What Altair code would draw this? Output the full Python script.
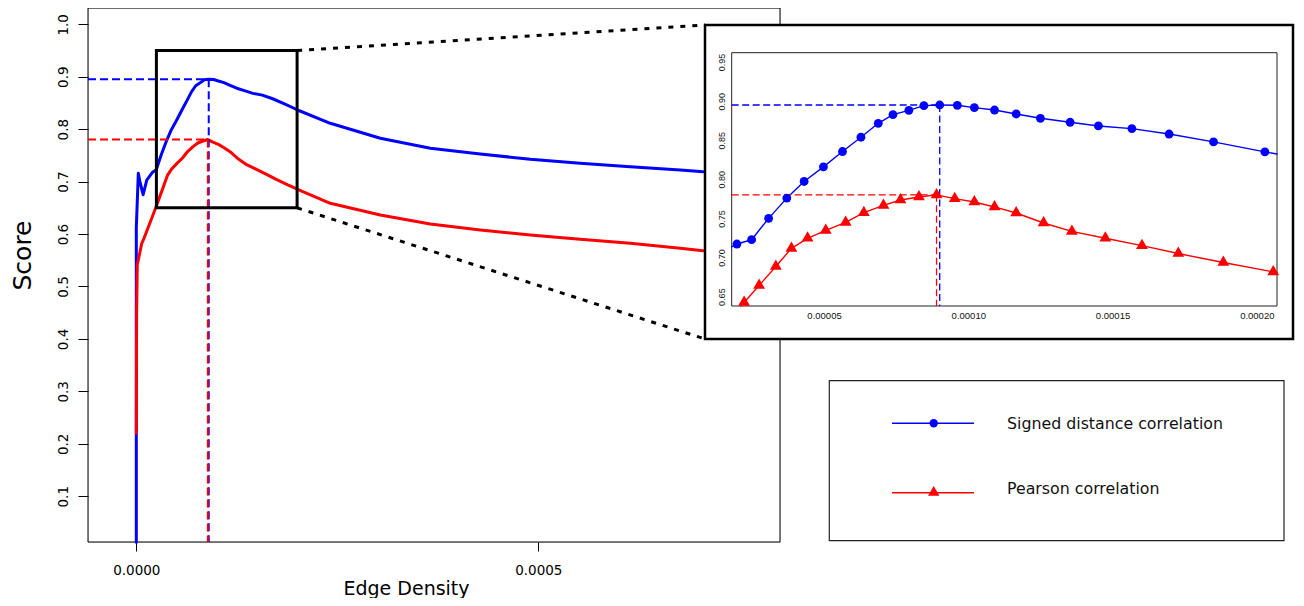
import altair as alt
import pandas as pd

# ---------------- data ----------------
SERIES = ["Signed distance correlation", "Pearson correlation"]
COLORS = ["#0000ff", "#ff0000"]
SHAPES = ["circle", "triangle-up"]

SDC_X = [0.0, 0.0, 0.0000025, 0.0000045, 0.0000085, 0.000013,
         0.0000198, 0.0000249, 0.0000308, 0.0000371, 0.0000431, 0.0000498,
         0.0000564, 0.0000628, 0.0000688, 0.0000739, 0.0000794, 0.0000846,
         0.0000901, 0.0000962, 0.0001021, 0.0001091, 0.0001166, 0.0001250,
         0.0001353, 0.0001451, 0.0001567, 0.0001696, 0.0001850, 0.0002028,
         0.0002413, 0.0003035, 0.0003657, 0.0004279, 0.0004900, 0.0005520,
         0.0006144, 0.0006766, 0.0007050]
SDC_Y = [0.0125, 0.611, 0.716, 0.700, 0.675, 0.703,
         0.7173, 0.7228, 0.7501, 0.7760, 0.7973, 0.8160,
         0.8356, 0.8539, 0.8717, 0.8828, 0.8883, 0.8943,
         0.8951, 0.8947, 0.8918, 0.8887, 0.8836, 0.8781,
         0.8730, 0.8683, 0.8649, 0.8580, 0.8479, 0.8351,
         0.8112, 0.7826, 0.7635, 0.7527, 0.7426, 0.7349,
         0.7285, 0.7222, 0.7189]

PC_X = [0.0, 0.0000004, 0.0000012, 0.0000068, 0.0000096,
        0.0000223, 0.0000275, 0.0000333, 0.0000387, 0.0000443, 0.0000506,
        0.0000575, 0.0000638, 0.0000706, 0.0000765, 0.0000829, 0.0000890,
        0.0000953, 0.0001021, 0.0001091, 0.0001166, 0.0001261, 0.0001359,
        0.0001475, 0.0001602, 0.0001728, 0.0001884, 0.0002057,
        0.0002413, 0.0003035, 0.0003657, 0.0004279, 0.0004900, 0.0005520,
        0.0006144, 0.0006766, 0.0007050]
PC_Y = [0.220, 0.449, 0.541, 0.5824, 0.5919,
        0.6425, 0.6642, 0.6885, 0.7118, 0.7246, 0.7348,
        0.7450, 0.7574, 0.7667, 0.7736, 0.7774, 0.7802,
        0.7753, 0.7710, 0.7647, 0.7570, 0.7442, 0.7335,
        0.7246, 0.7153, 0.7051, 0.6936, 0.6817,
        0.6587, 0.6364, 0.6192, 0.6078, 0.5982, 0.5900,
        0.5824, 0.5728, 0.5683]

X_TICKS = [0.0, 0.0005]
Y_TICKS = [0.1, 0.2, 0.3, 0.4, 0.5, 0.6, 0.7, 0.8, 0.9, 1.0]
INSET_X_TICKS = [0.00005, 0.00010, 0.00015, 0.00020]
INSET_Y_TICKS = [0.65, 0.70, 0.75, 0.80, 0.85, 0.90, 0.95]
ZOOM_X = [0.000025, 0.0002]
ZOOM_Y = [0.65, 0.95]

# ---------------- layout ----------------
W, H = 692, 534
X_DOMAIN = [-0.00006007, 0.00080063]
Y_DOMAIN = [0.01278, 1.03105]
EXP = 0.04
IX = [ZOOM_X[0] - EXP * (ZOOM_X[1] - ZOOM_X[0]), ZOOM_X[1] + EXP * (ZOOM_X[1] - ZOOM_X[0])]
IY = [ZOOM_Y[0] - EXP * (ZOOM_Y[1] - ZOOM_Y[0]), ZOOM_Y[1] + EXP * (ZOOM_Y[1] - ZOOM_Y[0])]
INSET_X_RANGE = [643.7, 1189.0]
INSET_Y_RANGE = [298.0, 44.7]
INSET_BOX = [617, 1205, 17, 331]
LEGEND_BOX = [741.3, 1196, 372.7, 532.7]
LEG_LINE_X = [804, 886]
LEG_MARK_X = 845.7
LEG_LINE_Y = [415.3, 484.7]
LEG_TEXT_X = 919
LEG_TEXT_Y = [421, 486]
TRI_OFFSET = -1.8

rows = []
for s, xs, ys in zip(SERIES, [SDC_X, PC_X], [SDC_Y, PC_Y]):
    for k, (x, y) in enumerate(zip(xs, ys)):
        rows.append({"series": s, "idx": k, "x": x, "y": y})
df = pd.DataFrame(rows)
one = pd.DataFrame({"k": [0]})

MX = alt.Scale(domain=X_DOMAIN, range=[0, W], nice=False, zero=False)
MY = alt.Scale(domain=Y_DOMAIN, range=[H, 0], nice=False, zero=False)
IXS = alt.Scale(domain=IX, range=INSET_X_RANGE, nice=False, zero=False)
IYS = alt.Scale(domain=IY, range=INSET_Y_RANGE, nice=False, zero=False)

MAIN_FONT = "DejaVu Sans"
INSET_FONT = "Liberation Sans"

main_x_axis = alt.Axis(
    values=X_TICKS, format=".4f", orient="bottom", domain=False, grid=False,
    ticks=True, tickSize=9, tickColor="black", tickWidth=1,
    labelFont=MAIN_FONT, labelFontSize=13.5, labelColor="black", labelPadding=12.5,
    labelFlush=False, labelOverlap=False, labelBaseline="top",
    title="Edge Density", titleFont=MAIN_FONT, titleFontSize=19, titleFontWeight="normal",
    titleColor="black", titleX=318, titleY=52.5, titleAlign="center",
    titleBaseline="alphabetic", titleAngle=0)

main_y_axis = alt.Axis(
    values=Y_TICKS, format=".1f", orient="left", domain=False, grid=False,
    ticks=True, tickSize=10, tickColor="black", tickWidth=1,
    labelFont=MAIN_FONT, labelFontSize=13.5, labelColor="black", labelPadding=11,
    labelAngle=270, labelAlign="center", labelBaseline="alphabetic",
    labelFlush=False, labelOverlap=False,
    title="Score", titleFont=MAIN_FONT, titleFontSize=25, titleFontWeight="normal",
    titleColor="black", titleX=-58, titleY=247, titleAlign="center",
    titleBaseline="alphabetic", titleAngle=270)

inset_x_axis = alt.Axis(
    values=INSET_X_TICKS, format=".5f", orient="bottom", offset=INSET_Y_RANGE[0] - H,
    domain=False, grid=False, ticks=False, tickSize=0, zindex=2,
    labelFont=INSET_FONT, labelFontSize=9.5, labelColor="#111111", labelPadding=4.5,
    labelBaseline="top", labelFlush=False, labelOverlap=False, title="")

inset_y_axis = alt.Axis(
    values=INSET_Y_TICKS, format=".2f", orient="left", offset=-INSET_X_RANGE[0],
    domain=False, grid=False, ticks=False, tickSize=0, zindex=2,
    labelFont=INSET_FONT, labelFontSize=9, labelColor="#111111", labelPadding=7,
    labelAngle=270, labelAlign="center", labelBaseline="alphabetic",
    labelFlush=False, labelOverlap=False, title="")


def sel(i):
    return alt.Chart(df).transform_filter(alt.datum.series == SERIES[i])


layers = []

# ---------------- main panel ----------------
frame_df = pd.DataFrame({"x0": [X_DOMAIN[0]], "x1": [X_DOMAIN[1]],
                         "y0": [Y_DOMAIN[0]], "y1": [Y_DOMAIN[1]]})
layers.append(alt.Chart(frame_df).mark_rect(filled=False, stroke="black", strokeWidth=1).encode(
    x=alt.X("x0:Q", scale=MX, axis=main_x_axis), x2="x1:Q",
    y=alt.Y("y0:Q", scale=MY, axis=main_y_axis), y2="y1:Q"))

for i in range(2):
    layers.append(
        sel(i).mark_line(color=COLORS[i], strokeWidth=3, strokeCap="round", strokeJoin="round").encode(
            x=alt.X("x:Q", scale=MX, axis=None),
            y=alt.Y("y:Q", scale=MY, axis=None),
            order=alt.Order("idx:Q")))


def peak_base(i, xlo, ylo):
    return (sel(i).transform_aggregate(peak="argmax(y)")
            .transform_calculate(px="datum.peak.x")
            .transform_calculate(py="datum.peak.y")
            .transform_calculate(xlo=repr(xlo))
            .transform_calculate(ylo=repr(ylo)))


for i in range(2):
    b = peak_base(i, X_DOMAIN[0], Y_DOMAIN[0])
    layers.append(b.mark_rule(color=COLORS[i], strokeWidth=2, strokeDash=[8, 4]).encode(
        x=alt.X("xlo:Q", scale=MX, axis=None), x2="px:Q",
        y=alt.Y("py:Q", scale=MY, axis=None)))
    layers.append(b.mark_rule(color=COLORS[i], strokeWidth=2, strokeDash=[8, 4]).encode(
        x=alt.X("px:Q", scale=MX, axis=None),
        y=alt.Y("py:Q", scale=MY, axis=None), y2="ylo:Q"))

zoom_df = pd.DataFrame({"x0": [ZOOM_X[0]], "x1": [ZOOM_X[1]],
                        "y0": [ZOOM_Y[0]], "y1": [ZOOM_Y[1]]})
layers.append(alt.Chart(zoom_df).mark_rect(filled=False, stroke="black", strokeWidth=3).encode(
    x=alt.X("x0:Q", scale=MX, axis=None), x2="x1:Q",
    y=alt.Y("y0:Q", scale=MY, axis=None), y2="y1:Q"))
layers.append(alt.Chart(zoom_df).mark_rule(color="black", strokeWidth=3, strokeDash=[5, 7]).encode(
    x=alt.X("x1:Q", scale=MX, axis=None), y=alt.Y("y1:Q", scale=MY, axis=None),
    x2=alt.value(INSET_BOX[0]), y2=alt.value(INSET_BOX[2])))
layers.append(alt.Chart(zoom_df).mark_rule(color="black", strokeWidth=3, strokeDash=[5, 7]).encode(
    x=alt.X("x1:Q", scale=MX, axis=None), y=alt.Y("y0:Q", scale=MY, axis=None),
    x2=alt.value(INSET_BOX[0]), y2=alt.value(INSET_BOX[3])))

# ---------------- inset panel ----------------
layers.append(alt.Chart(one).mark_rect(fill="white", stroke="black", strokeWidth=2.5).encode(
    x=alt.value(INSET_BOX[0]), x2=alt.value(INSET_BOX[1]),
    y=alt.value(INSET_BOX[2]), y2=alt.value(INSET_BOX[3])))

iframe_df = pd.DataFrame({"x0": [IX[0]], "x1": [IX[1]], "y0": [IY[0]], "y1": [IY[1]]})
layers.append(alt.Chart(iframe_df).mark_rect(filled=False, stroke="#222222", strokeWidth=1).encode(
    x=alt.X("x0:Q", scale=IXS, axis=inset_x_axis), x2="x1:Q",
    y=alt.Y("y0:Q", scale=IYS, axis=inset_y_axis), y2="y1:Q"))

x0s, x1s, y0s, y1s = repr(IX[0]), repr(IX[1]), repr(IY[0]), repr(IY[1])
DX = "(datum.xn - datum.x)"
DY = "(datum.yn - datum.y)"


def clipped(i):
    return (sel(i)
            .transform_window(xn="lead(x)", yn="lead(y)", sort=[alt.SortField("idx")], groupby=["series"])
            .transform_filter("isValid(datum.xn)")
            .transform_calculate(tx0=f"{DX} > 0 ? ({x0s} - datum.x) / {DX} : ((datum.x >= {x0s} && datum.x <= {x1s}) ? -1 : 2)")
            .transform_calculate(tx1=f"{DX} > 0 ? ({x1s} - datum.x) / {DX} : 2")
            .transform_calculate(ty0=f"{DY} > 0 ? ({y0s} - datum.y) / {DY} : ({DY} < 0 ? ({y1s} - datum.y) / {DY} : ((datum.y >= {y0s} && datum.y <= {y1s}) ? -1 : 2))")
            .transform_calculate(ty1=f"{DY} > 0 ? ({y1s} - datum.y) / {DY} : ({DY} < 0 ? ({y0s} - datum.y) / {DY} : 2)")
            .transform_calculate(t0="max(0, datum.tx0, datum.ty0)")
            .transform_calculate(t1="min(1, datum.tx1, datum.ty1)")
            .transform_filter("datum.t0 < datum.t1")
            .transform_calculate(xa=f"datum.x + datum.t0 * {DX}")
            .transform_calculate(ya=f"datum.y + datum.t0 * {DY}")
            .transform_calculate(xb=f"datum.x + datum.t1 * {DX}")
            .transform_calculate(yb=f"datum.y + datum.t1 * {DY}"))


for i in range(2):
    layers.append(clipped(i).mark_rule(color=COLORS[i], strokeWidth=1.4, strokeCap="round").encode(
        x=alt.X("xa:Q", scale=IXS, axis=None), x2="xb:Q",
        y=alt.Y("ya:Q", scale=IYS, axis=None), y2="yb:Q"))

for i in range(2):
    b = peak_base(i, IX[0], IY[0])
    layers.append(b.mark_rule(color=COLORS[i], strokeWidth=1.3, strokeDash=[7, 3.5]).encode(
        x=alt.X("xlo:Q", scale=IXS, axis=None), x2="px:Q",
        y=alt.Y("py:Q", scale=IYS, axis=None)))
    layers.append(b.mark_rule(color=COLORS[i], strokeWidth=1.3, strokeDash=[7, 3.5]).encode(
        x=alt.X("px:Q", scale=IXS, axis=None),
        y=alt.Y("py:Q", scale=IYS, axis=None), y2="ylo:Q"))

in_dom = f"datum.x >= {x0s} && datum.x <= {x1s} && datum.y >= {y0s} && datum.y <= {y1s}"
for i in range(2):
    layers.append(sel(i).transform_filter(in_dom).mark_point(
        shape=SHAPES[i], filled=True, opacity=1, color=COLORS[i],
        size=78 if i == 0 else 140, yOffset=0 if i == 0 else TRI_OFFSET).encode(
        x=alt.X("x:Q", scale=IXS, axis=None),
        y=alt.Y("y:Q", scale=IYS, axis=None)))

# ---------------- legend ----------------
layers.append(alt.Chart(one).mark_rect(fill="white", stroke="#222222", strokeWidth=1.2).encode(
    x=alt.value(LEGEND_BOX[0]), x2=alt.value(LEGEND_BOX[1]),
    y=alt.value(LEGEND_BOX[2]), y2=alt.value(LEGEND_BOX[3])))
leg_df = pd.DataFrame({"series": SERIES})
for i in range(2):
    li = alt.Chart(leg_df).transform_filter(alt.datum.series == SERIES[i])
    layers.append(li.mark_rule(color=COLORS[i], strokeWidth=1.5).encode(
        x=alt.value(LEG_LINE_X[0]), x2=alt.value(LEG_LINE_X[1]), y=alt.value(LEG_LINE_Y[i])))
    layers.append(li.mark_point(shape=SHAPES[i], filled=True, opacity=1, color=COLORS[i],
                                size=70 if i == 0 else 130,
                                yOffset=0 if i == 0 else TRI_OFFSET).encode(
        x=alt.value(LEG_MARK_X), y=alt.value(LEG_LINE_Y[i])))
    layers.append(li.mark_text(align="left", baseline="alphabetic", font=MAIN_FONT,
                               fontSize=15.8, color="#111111").encode(
        x=alt.value(LEG_TEXT_X), y=alt.value(LEG_TEXT_Y[i]), text="series:N"))

chart = (alt.layer(*layers)
         .resolve_scale(x="independent", y="independent")
         .properties(width=W, height=H,
                     autosize=alt.AutoSizeParams(type="none"),
                     padding={"left": 80, "top": 0, "right": 516, "bottom": 56})
         .configure_view(strokeWidth=0)
         .configure(background="white"))

chart.save("out.html", embed_options={"renderer": "svg", "actions": False})
